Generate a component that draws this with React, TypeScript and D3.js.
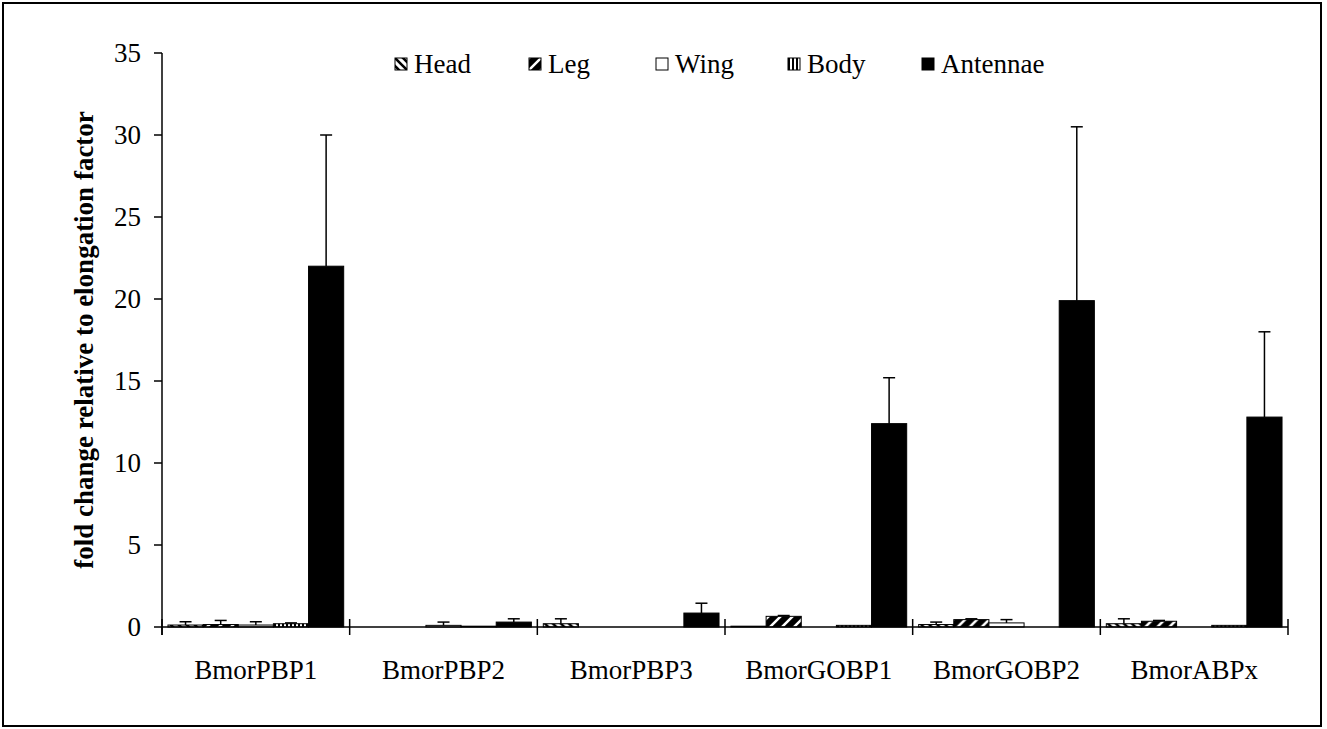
import React from "react";
import * as d3 from "d3";

const categories = ["BmorPBP1", "BmorPBP2", "BmorPBP3", "BmorGOBP1", "BmorGOBP2", "BmorABPx"];
const tissues = ["Head", "Leg", "Wing", "Body", "Antennae"];

// mean fold change per tissue, one value per gene
const headMean = [0.12, 0, 0.2, 0.05, 0.15, 0.2];
const legMean = [0.15, 0, 0, 0.65, 0.45, 0.35];
const wingMean = [0.12, 0.1, 0, 0, 0.25, 0];
const bodyMean = [0.2, 0.05, 0, 0.1, 0, 0.1];
const antennaeMean = [22, 0.3, 0.85, 12.4, 19.9, 12.8];

// standard deviation (upper whisker length)
const headSd = [0.2, 0, 0.3, 0, 0.15, 0.3];
const legSd = [0.25, 0, 0, 0.05, 0.05, 0.05];
const wingSd = [0.2, 0.2, 0, 0, 0.2, 0];
const bodySd = [0.05, 0, 0, 0, 0, 0];
const antennaeSd = [8, 0.2, 0.6, 2.8, 10.6, 5.2];

const yTicks = [0, 5, 10, 15, 20, 25, 30, 35];

const means = [headMean, legMean, wingMean, bodyMean, antennaeMean];
const sds = [headSd, legSd, wingSd, bodySd, antennaeSd];
const fills = ["url(#pHead)", "url(#pLeg)", "#ffffff", "url(#pBody)", "#000000"];

const W = 1327;
const H = 729;
const left = 162;
const right = 1288;
const top = 53;
const bottom = 627;
const font = "'Liberation Serif', 'Times New Roman', serif";
const fs = 27;
const legendX = [395, 529, 656, 788, 922];

export default function App() {
  const x0 = d3.scaleBand<string>().domain(categories).range([left, right]).padding(0);
  const x1 = d3
    .scaleBand<string>()
    .domain(tissues)
    .range([0, x0.bandwidth()])
    .paddingInner(0)
    .paddingOuter(0.17);
  const y = d3.scaleLinear().domain([0, 35]).range([bottom, top]);

  const boundaries = categories.map((c) => x0(c)!).concat([right]);

  return (
    <svg
      width={W}
      height={H}
      style={{ position: "absolute", left: 0, top: 0, background: "#fff" }}
      fontFamily={font}
    >
      <defs>
        <pattern id="pHead" patternUnits="userSpaceOnUse" width="8" height="8">
          <rect width="8" height="8" fill="#fff" />
          <path d="M-2,-2 L10,10 M-2,6 L2,10 M6,-2 L10,2" stroke="#000" strokeWidth="2.6" />
        </pattern>
        <pattern id="pLeg" patternUnits="userSpaceOnUse" width="12" height="12">
          <rect width="12" height="12" fill="#000" />
          <path d="M-3,3 L3,-3 M-3,15 L15,-3 M9,15 L15,9" stroke="#fff" strokeWidth="2.5" />
        </pattern>
        <pattern id="pBody" patternUnits="userSpaceOnUse" width="4" height="4">
          <rect width="4" height="4" fill="#fff" />
          <rect x="0" width="2" height="4" fill="#000" />
        </pattern>
      </defs>

      <rect x={3} y={3} width={1318} height={723} fill="none" stroke="#000" strokeWidth={2} />

      {/* y axis */}
      <line x1={left} x2={left} y1={top} y2={bottom + 8} stroke="#000" strokeWidth={1.5} />
      {yTicks.map((t) => (
        <g key={t}>
          <line x1={left - 8} x2={left} y1={y(t)} y2={y(t)} stroke="#000" strokeWidth={1.5} />
          <text x={left - 21} y={y(t)} dy="0.34em" textAnchor="end" fontSize={fs}>
            {t}
          </text>
        </g>
      ))}

      {/* bars */}
      {categories.map((c, ci) => (
        <g key={c} transform={`translate(${x0(c)},0)`}>
          {tissues.map((t, ti) => {
            const v = means[ti][ci];
            const s = sds[ti][ci];
            const bx = x1(t)!;
            const bw = x1.bandwidth();
            const cx = bx + bw / 2;
            return (
              <g key={t}>
                {v > 0 && (
                  <rect
                    x={bx}
                    y={y(v)}
                    width={bw}
                    height={y(0) - y(v)}
                    fill={fills[ti]}
                    stroke="#000"
                    strokeWidth={1}
                  />
                )}
                {s > 0 && (
                  <g stroke="#000" strokeWidth={1.5}>
                    <line x1={cx} x2={cx} y1={y(v)} y2={y(v + s)} />
                    <line x1={cx - 6} x2={cx + 6} y1={y(v + s)} y2={y(v + s)} />
                  </g>
                )}
              </g>
            );
          })}
        </g>
      ))}

      {/* x axis */}
      <line x1={left} x2={right} y1={bottom} y2={bottom} stroke="#000" strokeWidth={1.5} />
      {boundaries.map((b, i) => (
        <line key={i} x1={b} x2={b} y1={bottom - 8} y2={bottom + 8} stroke="#000" strokeWidth={1.5} />
      ))}
      {categories.map((c) => (
        <text key={c} x={x0(c)! + x0.bandwidth() / 2} y={679} textAnchor="middle" fontSize={fs}>
          {c}
        </text>
      ))}

      {/* y label */}
      <text
        transform={`translate(93,${(top + bottom) / 2}) rotate(-90)`}
        textAnchor="middle"
        fontSize={fs}
        fontWeight="bold"
      >
        fold change relative to elongation factor
      </text>

      {/* legend */}
      {tissues.map((t, i) => (
        <g key={t} transform={`translate(${legendX[i]},58)`}>
          <rect x={0} y={0} width={12} height={12} fill={fills[i]} stroke="#000" strokeWidth={1} />
          <text x={19} y={6} dy="0.34em" fontSize={fs}>
            {t}
          </text>
        </g>
      ))}
    </svg>
  );
}
